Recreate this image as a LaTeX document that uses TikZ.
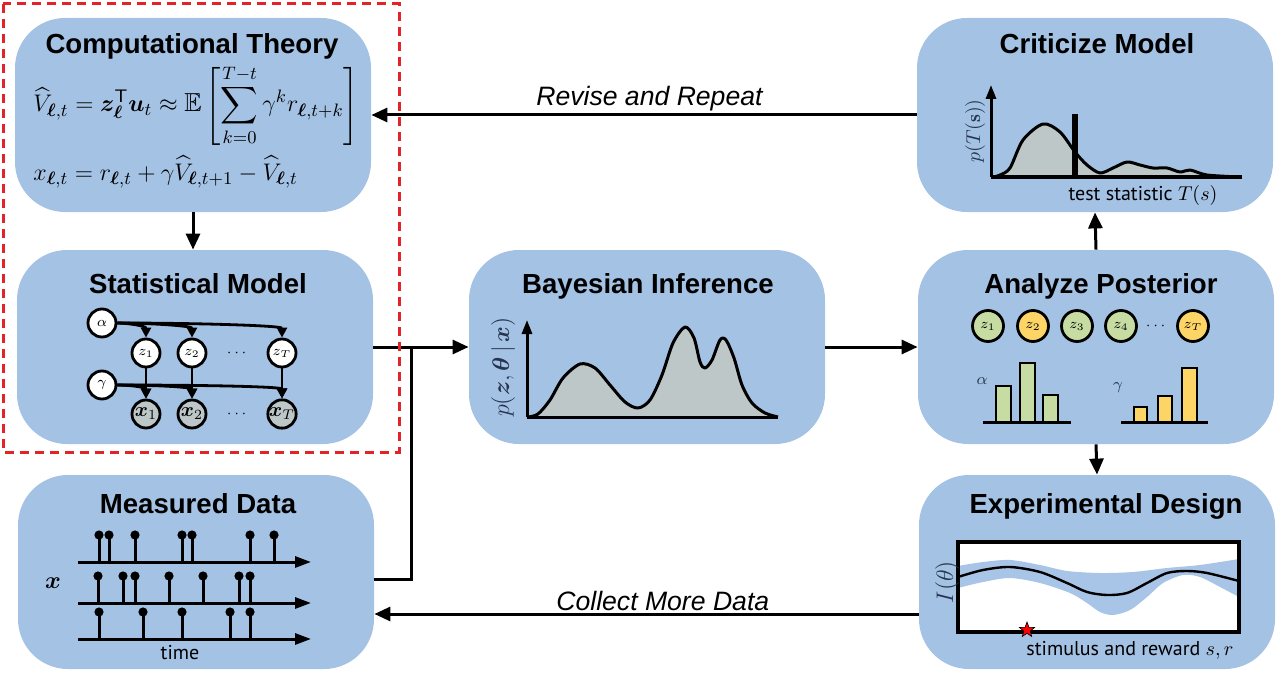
\documentclass[tikz,border=0pt]{standalone}
\usepackage{fontspec}
\usepackage{amsmath,amssymb,bm}
\usetikzlibrary{arrows.meta,positioning,shapes.geometric}
\newfontfamily\headfont{Liberation Sans}
\newfontfamily\notefont{PT Sans}

\definecolor{boxblue}{RGB}{164,194,228}
\definecolor{plotgray}{RGB}{190,199,199}
\definecolor{bandblue}{RGB}{168,196,230}
\definecolor{zgreen}{RGB}{198,220,162}
\definecolor{zyellow}{RGB}{253,213,102}
\definecolor{dashred}{RGB}{226,35,40}
\definecolor{axislabel}{RGB}{38,52,78}

\tikzset{
    stage/.style={fill=boxblue, rounded corners=25pt, minimum width=178pt, minimum height=97pt, inner sep=0},
    head/.style={font=\headfont\bfseries\fontsize{13.8}{16}\selectfont, anchor=base, inner sep=0},
    formula/.style={font=\fontsize{13}{15}\selectfont, inner sep=0, anchor=base west},
    flow/.style={line width=1.5pt, -{Triangle[length=8pt,width=7pt]}},
    wire/.style={line width=1.5pt},
    flowlabel/.style={font=\headfont\itshape\fontsize{13.3}{16}\selectfont, inner sep=1pt},
    var node/.style={circle, draw, line width=1.4pt, fill=white, minimum size=14pt, inner sep=0, font=\fontsize{7.5}{9}\selectfont},
    obs node/.style={var node, fill=plotgray, font=\fontsize{10}{12}\selectfont},
    dots node/.style={inner sep=0, font=\fontsize{7.5}{9}\selectfont},
    link/.style={line width=1.4pt, -{Triangle[length=5pt,width=5pt]}},
    state node/.style={circle, draw, line width=1.4pt, minimum size=15.5pt, inner sep=0, font=\fontsize{7.5}{9}\selectfont},
    density/.style={line width=1.5pt, line join=round},
    plotaxis/.style={line width=1.5pt},
    upaxis/.style={line width=1.5pt, -{Triangle[length=7pt,width=5pt]}},
    timeaxis/.style={line width=1.5pt, -{Triangle[length=8pt,width=5.5pt]}},
    bar/.style={draw, line width=1.4pt},
    note/.style={font=\notefont\fontsize{10}{12}\selectfont, inner sep=0, anchor=base},
    axisname/.style={text=axislabel, inner sep=0, rotate=90},
    modelframe/.style={draw=dashred, line width=1.5pt, dash pattern=on 4.5pt off 3pt}
    }

\begin{document}
\begin{tikzpicture}[x=0.5pt,y=-0.5pt]
\useasboundingbox (0,0) rectangle (1280,674);

% the seven stages
\node[stage] (theory) at (193,115) {};
\node[stage] (statmodel) at (195,347) {};
\node[stage] (data) at (196,572) {};
\node[stage] (bayes) at (647,347) {};
\node[stage] (critic) at (1095,115) {};
\node[stage] (posterior) at (1096,347) {};
\node[stage] (design) at (1097,572) {};

\node[head] (theorytitle) at (192,54) {Computational Theory};
\node[head] (stattitle) at (198,293) {Statistical Model};
\node[head] (datatitle) at (198,513) {Measured Data};
\node[head] (bayestitle) at (648,293) {Bayesian Inference};
\node[head] (crittitle) at (1097,54) {Criticize Model};
\node[head] (posttitle) at (1101,293) {Analyze Posterior};
\node[head] (designtitle) at (1106,513) {Experimental Design};

% computational theory
\node[formula] (valueeq) at (33,112) {$\displaystyle \widehat{V}_{\bm{\ell},t} = \bm{z}_{\bm{\ell}}^{\mathsf{T}}\bm{u}_t \approx \mathbb{E}\left[\sum_{k=0}^{T-t}\gamma^k r_{\bm{\ell},t+k}\right]$};
\node[formula] (tderror) at (33,180) {$x_{\bm{\ell},t} = r_{\bm{\ell},t} + \gamma\widehat{V}_{\bm{\ell},t+1} - \widehat{V}_{\bm{\ell},t}$};

% statistical model
\node[var node] (alpha) at (102,323) {$\alpha$};
\node[var node] (gamma) at (102,385) {$\gamma$};
\node[var node] (z1) at (146,353) {$z_1$};
\node[var node] (z2) at (192,353) {$z_2$};
\node[dots node] (zdots) at (238,353) {$\cdots$};
\node[var node] (zT) at (282,353) {$z_T$};
\node[obs node] (x1) at (146,414) {$\bm{x}_1$};
\node[obs node] (x2) at (192,414) {$\bm{x}_2$};
\node[dots node] (xdots) at (238,414) {$\cdots$};
\node[obs node] (xT) at (282,414) {$\bm{x}_T$};
\foreach \t/\d in {1/4pt,2/14pt,T/40pt}{
    \draw[link] (alpha.east) to[out=0,in=90,out distance=\d,in distance=6pt] (z\t.north);
    \draw[link] (gamma.east) to[out=0,in=90,out distance=\d,in distance=6pt] (x\t.north);
    \draw[link] (z\t) -- (x\t);
}

% measured data
\foreach \ylev/\ticks in {562/{99,109,135,182,192,250,274}, 603/{98,123,135,169,203,239,250}, 639/{99,143,182,230,250}}{
    \draw[timeaxis] (78,\ylev) -- (311,\ylev);
    \foreach \t in \ticks{
        \draw[plotaxis] (\t,\ylev) -- (\t,\ylev-27);
        \fill (\t,\ylev-27) circle (2.3pt);
    }
}
\node[inner sep=0, font=\fontsize{11.5}{13}\selectfont] (xname) at (53,583) {$\bm{x}$};
\node[note] (timename) at (180,659) {time};

% bayesian inference
\fill[plotgray] plot[smooth] coordinates {(528,417) (538,414) (550,400) (563,378) (580,364) (595,368) (610,385) (625,402) (638,408) (650,400) (662,375) (673,343) (685,327) (694,338) (700,362) (705,368) (712,360) (720,340) (726,340) (734,358) (742,385) (752,403) (765,413) (778,417)} -- cycle;
\draw[density] plot[smooth] coordinates {(528,417) (538,414) (550,400) (563,378) (580,364) (595,368) (610,385) (625,402) (638,408) (650,400) (662,375) (673,343) (685,327) (694,338) (700,362) (705,368) (712,360) (720,340) (726,340) (734,358) (742,385) (752,403) (765,413) (778,417)};
\draw[plotaxis] (527,417) -- (778,417);
\draw[upaxis] (527,417) -- (527,320);
\node[axisname, font=\fontsize{12.5}{15}\selectfont] (postname) at (503,367) {$p(\bm{z},\bm{\theta}\,|\,\bm{x})$};

% criticize model
\fill[plotgray] plot[smooth] coordinates {(993,177) (1000,175) (1010,168) (1023,140) (1043,124) (1060,132) (1075,152) (1087,165) (1100,173) (1113,168) (1127,162) (1140,165) (1153,168) (1167,168) (1180,172) (1190,170) (1207,175) (1240,177)} -- cycle;
\draw[density] plot[smooth] coordinates {(993,177) (1000,175) (1010,168) (1023,140) (1043,124) (1060,132) (1075,152) (1087,165) (1100,173) (1113,168) (1127,162) (1140,165) (1153,168) (1167,168) (1180,172) (1190,170) (1207,175) (1240,177)};
\draw[line width=2.6pt] (1075,177) -- (1075,114);
\draw[plotaxis] (991,177) -- (1242,177);
\draw[upaxis] (991,177) -- (991,85);
\node[axisname, font=\fontsize{10}{12}\selectfont] (testname) at (975,131) {$p(T(\mathbf{s}))$};
\node[note] (statname) at (1143,200) {test statistic $T(s)$};

% analyze posterior
\node[state node, fill=zgreen] (p1) at (988,326) {$z_1$};
\node[state node, fill=zyellow] (p2) at (1033,326) {$z_2$};
\node[state node, fill=zgreen] (p3) at (1077,326) {$z_3$};
\node[state node, fill=zgreen] (p4) at (1121,326) {$z_4$};
\node[dots node] (pdots) at (1157,326) {$\cdots$};
\node[state node, fill=zyellow] (pT) at (1193,326) {$z_T$};
\filldraw[bar, fill=zgreen] (996,422) rectangle (1011,386);
\filldraw[bar, fill=zgreen] (1020,422) rectangle (1035,363);
\filldraw[bar, fill=zgreen] (1043,422) rectangle (1058,395);
\draw[plotaxis] (983,422) -- (1071,422);
\filldraw[bar, fill=zyellow] (1134,422) rectangle (1147,407);
\filldraw[bar, fill=zyellow] (1158,422) rectangle (1172,396);
\filldraw[bar, fill=zyellow] (1182,422) rectangle (1197,368);
\draw[plotaxis] (1121,422) -- (1208,422);
\node[inner sep=0, text=axislabel, font=\fontsize{8}{10}\selectfont] (alphaname) at (982,381) {$\alpha$};
\node[inner sep=0, text=axislabel, font=\fontsize{8}{10}\selectfont] (gammaname) at (1118,388) {$\gamma$};

% experimental design
\fill[white] (958,542) rectangle (1239,632);
\fill[bandblue] plot[smooth] coordinates {(958,566) (983,562) (1010,560) (1040,565) (1067,571) (1100,573) (1133,572) (1167,568) (1200,565) (1239,559)} -- plot[smooth] coordinates {(1239,597) (1220,587) (1200,577) (1183,575) (1163,583) (1147,597) (1130,610) (1113,615) (1100,612) (1087,603) (1070,593) (1040,583) (1010,578) (983,582) (958,588)} -- cycle;
\draw[line width=1.2pt] plot[smooth] coordinates {(958,577) (983,570) (1010,567) (1040,572) (1067,583) (1087,592) (1107,595) (1127,593) (1147,583) (1167,573) (1187,571) (1207,573) (1239,581)};
\draw[line width=1.8pt] (958,542) rectangle (1239,632);
\node[star, star points=5, star point ratio=2.4, fill=red, draw=black, line width=0.3pt, minimum size=8pt, inner sep=0] (stimstar) at (1027,630) {};
\node[axisname, font=\fontsize{11.5}{14}\selectfont] (infoname) at (947,582) {$I(\theta)$};
\node[note] (stimname) at (1130,655) {stimulus and reward $s,r$};

% connectors
\draw[flow] (critic.west) -- node[flowlabel, above, pos=0.49] (revise) {Revise and Repeat} (theory.east);
\draw[flow] (theory.south) -- (theory.south |- statmodel.north);
\draw[flow] (statmodel.east) -- (bayes.west);
\coordinate (join) at (411,347);
\draw[wire] (data.east) ++(0,7) -| (join);
\draw[flow] (bayes.east) -- (posterior.west);
\draw[flow] (posterior.north) -- (critic.south);
\draw[flow] (posterior.south) -- (design.north);
\draw[flow] (design.west) ++(0,42) coordinate (collectstart) -- node[flowlabel, above, pos=0.47] (collect) {Collect More Data} (collectstart -| data.east);

% model frame
\draw[modelframe] (3,4) rectangle (399,452);
\end{tikzpicture}
\end{document}
